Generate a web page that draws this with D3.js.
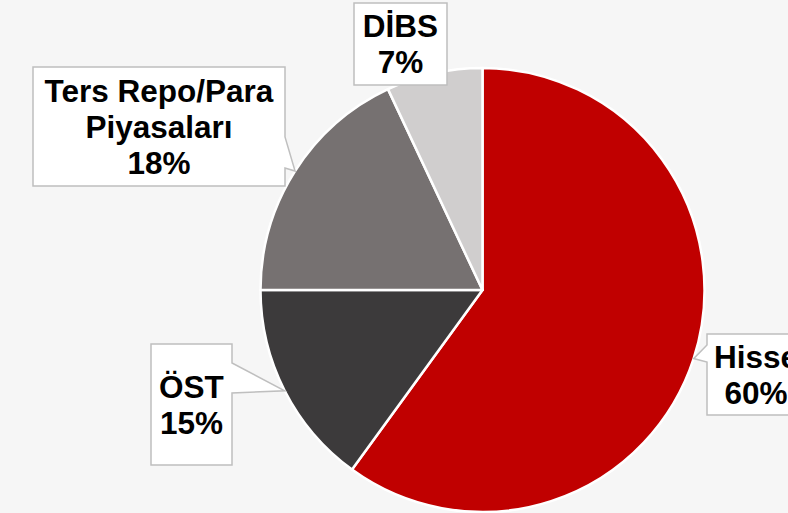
<!DOCTYPE html>
<html>
<head>
<meta charset="utf-8">
<script src="https://cdn.jsdelivr.net/npm/d3@7"></script>
<style>
  body { margin: 0; background: #f6f6f6; }
  svg { display: block; }
  text { font-family: "Liberation Sans", Arial, sans-serif; font-weight: bold; }
</style>
</head>
<body>
<svg width="788" height="513"></svg>
<script>
const width = 788;
const height = 513;

// data
const categories = ["Hisse", "ÖST", "Ters Repo/Para Piyasaları", "DİBS"];
const values = [60, 15, 18, 7];
const labelLines = [["Hisse", "60%"], ["ÖST", "15%"], ["Ters Repo/Para", "Piyasaları", "18%"], ["DİBS", "7%"]];
const colors = ["#c00000", "#3c3a3b", "#767171", "#d0cece"];

// callout boxes (x, y, w, h, side of pointer, pointer base y0/y1)
const boxes = [
  {x: 707, y: 334, w: 98, h: 81, side: "left", b0: 345, b1: 362},
  {x: 151, y: 344, w: 81, h: 121, side: "right", b0: 363, b1: 393},
  {x: 33, y: 67, w: 252, h: 119, side: "right", b0: 137, b1: 168},
  {x: 354, y: 3, w: 93, h: 82, side: "none"}
];

const svg = d3.select("svg");
const cx = 482.5, cy = 290, r = 222;

const pie = d3.pie().sort(null).value(d => d);
const arcs = pie(values);
const arc = d3.arc().innerRadius(0).outerRadius(r);

const g = svg.append("g").attr("transform", `translate(${cx},${cy})`);

g.selectAll("path.slice")
  .data(arcs)
  .enter().append("path")
  .attr("class", "slice")
  .attr("d", arc)
  .attr("fill", (d, i) => colors[i])
  .attr("stroke", "#fff")
  .attr("stroke-width", 2.5)
  .attr("stroke-linejoin", "round");

// point on the rim at the middle of each slice
function tipOf(d) {
  let a = (d.startAngle + d.endAngle) / 2;
  return [cx + r * Math.sin(a), cy - r * Math.cos(a)];
}

function calloutPath(b, tip) {
  const x0 = b.x, x1 = b.x + b.w, y0 = b.y, y1 = b.y + b.h;
  const p = d3.path();
  p.moveTo(x0, y0);
  p.lineTo(x1, y0);
  if (b.side === "right") {
    p.lineTo(x1, b.b0);
    p.lineTo(tip[0], tip[1]);
    p.lineTo(x1, b.b1);
  }
  p.lineTo(x1, y1);
  p.lineTo(x0, y1);
  if (b.side === "left") {
    p.lineTo(x0, b.b1);
    p.lineTo(tip[0], tip[1]);
    p.lineTo(x0, b.b0);
  }
  p.closePath();
  return p.toString();
}

const labels = svg.selectAll("g.label")
  .data(arcs)
  .enter().append("g")
  .attr("class", "label");

labels.append("path")
  .attr("d", (d, i) => calloutPath(boxes[i], tipOf(d)))
  .attr("fill", "#fff")
  .attr("stroke", "#bfbfbf")
  .attr("stroke-width", 1.5);

const lineH = 36;
labels.each(function(d, i) {
  const b = boxes[i];
  const lines = labelLines[i];
  const mid = b.y + b.h / 2;
  const first = mid - (lines.length - 1) * lineH / 2 + 11;
  d3.select(this).selectAll("text")
    .data(lines)
    .enter().append("text")
    .attr("x", b.x + b.w / 2)
    .attr("y", (t, k) => first + k * lineH)
    .attr("text-anchor", "middle")
    .attr("font-size", 31.5)
    .attr("fill", "#000")
    .text(t => t);
});
</script>
</body>
</html>
